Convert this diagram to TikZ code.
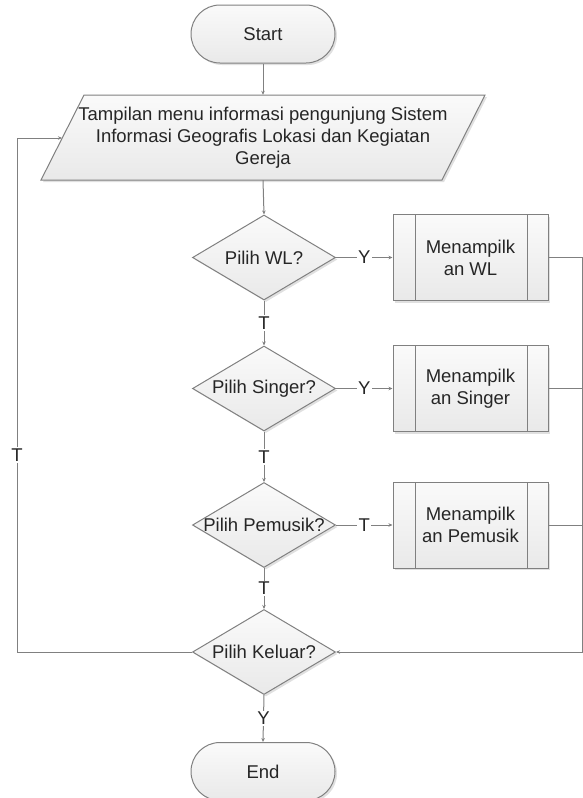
\documentclass[tikz,border=0pt]{standalone}
\usepackage{fontspec}
\setmainfont{Liberation Sans}
\usetikzlibrary{shapes.misc,shapes.geometric,arrows.meta,shadows}
\definecolor{ln}{HTML}{808080}
\definecolor{tx}{HTML}{262626}
\definecolor{ftop}{HTML}{FAFAFA}
\definecolor{fbot}{HTML}{E9E9E9}
\tikzset{
  base/.style={draw=ln, line width=1pt, top color=ftop, bottom color=fbot,
    drop shadow={shadow xshift=2pt, shadow yshift=-2pt, fill=black, opacity=.12},
    text=tx, font=\fontsize{18.5}{22}\selectfont, align=center},
  term/.style={base, rounded rectangle, minimum width=144pt, minimum height=58pt, inner sep=0pt},
  dec/.style={base, diamond, minimum width=143pt, minimum height=85pt, inner sep=0pt},
  proc/.style={base, rectangle, minimum width=155pt, minimum height=86pt, inner sep=0pt,
    path picture={
      \draw[ln, line width=1pt] ([xshift=22pt]path picture bounding box.north west) -- ([xshift=22pt]path picture bounding box.south west);
      \draw[ln, line width=1pt] ([xshift=-21pt]path picture bounding box.north east) -- ([xshift=-21pt]path picture bounding box.south east);
    }},
  dtext/.style={text=tx, font=\fontsize{18.5}{22}\selectfont, inner sep=0pt},
  conn/.style={draw=ln, line width=1pt},
  arr/.style={conn, -{Stealth[length=4pt,width=3.5pt]}},
  lab/.style={fill=white, text=tx, font=\fontsize{18.5}{22}\selectfont, inner sep=1.5pt},
}
\begin{document}
\begin{tikzpicture}[x=1pt,y=-1pt]
\useasboundingbox (0,0) rectangle (583,798);

% Start
\node[term] (start) at (263,34) {Start};

% parallelogram
\path[base] (41,180) -- (84,95) -- (485,95) -- (442,180) -- cycle;
\node[dtext, align=center, minimum width=360pt, minimum height=85pt] (para) at (263,137.5)
  {Tampilan menu informasi pengunjung Sistem\\Informasi Geografis Lokasi dan Kegiatan\\Gereja};
\coordinate (paraL) at (62,138);

% decisions
\node[dec, label={[dtext]center:Pilih WL?}] (d1) at (264,257.5) {};
\node[dec, label={[dtext]center:Pilih Singer?}] (d2) at (264,388.5) {};
\node[dec, label={[dtext]center:Pilih Pemusik?}] (d3) at (264,525) {};
\node[dec, label={[dtext]center:Pilih Keluar?}] (d4) at (264,652) {};

% processes
\node[proc] (p1) at (470.5,257.5) {Menampilk\\an WL};
\node[proc] (p2) at (470.5,388.5) {Menampilk\\an Singer};
\node[proc] (p3) at (470.5,525) {Menampilk\\an Pemusik};

% End
\node[term] (end) at (263,771.5) {End};

% right collector coordinates
\coordinate (r1) at (582.5,257.5);
\coordinate (r2) at (582.5,388.5);
\coordinate (r3) at (582.5,525);
\coordinate (r4) at (582.5,652);
\coordinate (l4) at (17,652);
\coordinate (l0) at (17,138);

% connectors
\draw[arr] (start.south) -- (start.south |- para.north);
\draw[arr] (para.south) -- (d1.north);
\draw[arr] (d1.east) -- node[lab]{Y} (p1.west);
\draw[arr] (d1.south) -- node[lab]{T} (d2.north);
\draw[arr] (d2.east) -- node[lab]{Y} (p2.west);
\draw[arr] (d2.south) -- node[lab]{T} (d3.north);
\draw[arr] (d3.east) -- node[lab]{T} (p3.west);
\draw[arr] (d3.south) -- node[lab]{T} (d4.north);
\draw[arr] (d4.south) -- node[lab]{Y} (end.north);

\draw[conn] (p1.east) -- (r1);
\draw[conn] (p2.east) -- (r2);
\draw[conn] (p3.east) -- (r3);
\draw[arr] (r1) -- (r4) -- (d4.east);

\draw[arr] (d4.west) -- (l4) -- node[lab, pos=0.383]{T} (l0) -- (paraL);
\end{tikzpicture}
\end{document}
